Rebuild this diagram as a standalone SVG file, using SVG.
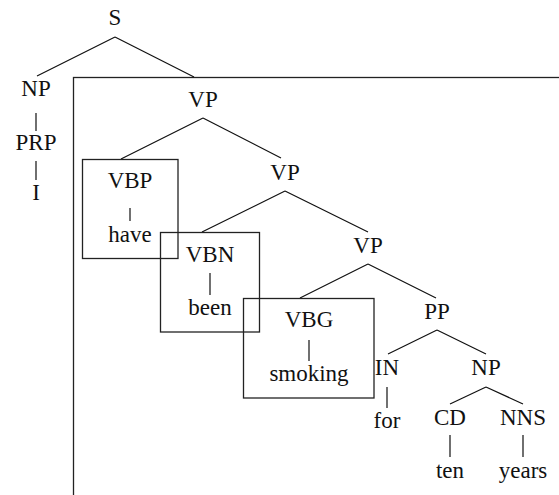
<svg xmlns="http://www.w3.org/2000/svg" width="559" height="495" viewBox="0 0 559 495">
  <style>
    .edge { stroke: #111; stroke-width: 1.2; fill: none; }
    .box { stroke: #222; stroke-width: 1.3; fill: none; }
  </style>
  <rect width="559" height="495" fill="#fff"/>

  <!-- framed verb phrase region -->
  <rect id="vp-frame" class="box" x="73.5" y="77.5" width="600" height="500"/>

  <!-- tree edges -->
  <g id="connectors">
    <path class="edge" d="M115 37 L37 76 M115 37 L194 77"/>
    <path class="edge" d="M36 113 V131 M36 161 V180"/>
    <path class="edge" d="M203 118 L121 159 M203 118 L281 158"/>
    <path class="edge" d="M130 208 V221"/>
    <path class="edge" d="M285 191 L202 232 M285 191 L368 232"/>
    <path class="edge" d="M210 273 V295"/>
    <path class="edge" d="M368 264 L300 298 M368 264 L436 298"/>
    <path class="edge" d="M309 340 V361"/>
    <path class="edge" d="M437 330 L388 354 M437 330 L486 354"/>
    <path class="edge" d="M387 387 V408"/>
    <path class="edge" d="M486 387 L450 404 M486 387 L523 404"/>
    <path class="edge" d="M450 435 V457 M523 435 V457"/>
  </g>

  <g font-family="Liberation Serif, DejaVu Serif, serif" font-size="23" fill="#111" text-anchor="middle">
    <g id="S"><text x="115" y="25">S</text></g>
    <g id="NP-subj"><text x="36" y="96">NP</text></g>
    <g id="PRP"><text x="36" y="150">PRP</text></g>
    <g id="I"><text x="36" y="200">I</text></g>

    <g id="VP1"><text x="203" y="107">VP</text></g>

    <g id="VBP">
      <rect class="box" x="82.5" y="159.5" width="95.5" height="99"/>
      <text x="130" y="188">VBP</text>
      <text x="130" y="242">have</text>
    </g>

    <g id="VP2"><text x="285" y="180">VP</text></g>

    <g id="VBN">
      <rect class="box" x="160.5" y="232.5" width="99" height="99.5"/>
      <text x="210" y="262">VBN</text>
      <text x="210" y="315">been</text>
    </g>

    <g id="VP3"><text x="368" y="253">VP</text></g>

    <g id="VBG">
      <rect class="box" x="243.5" y="298.5" width="130.5" height="99.5"/>
      <text x="309" y="327">VBG</text>
      <text x="309" y="381">smoking</text>
    </g>

    <g id="PP"><text x="437" y="319">PP</text></g>
    <g id="IN"><text x="387" y="375">IN</text></g>
    <g id="for"><text x="387" y="428">for</text></g>
    <g id="NP-obj"><text x="486" y="375">NP</text></g>
    <g id="CD"><text x="450" y="425">CD</text></g>
    <g id="ten"><text x="450" y="478">ten</text></g>
    <g id="NNS"><text x="523" y="425">NNS</text></g>
    <g id="years"><text x="523" y="478">years</text></g>
  </g>
</svg>
